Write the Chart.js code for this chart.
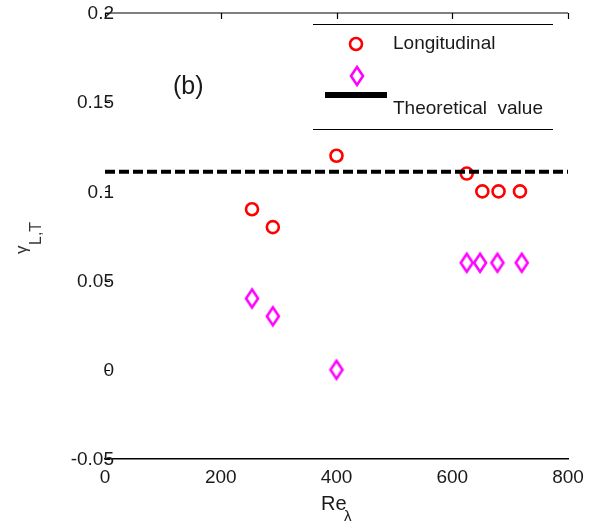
<!DOCTYPE html>
<html>
<head>
<meta charset="utf-8">
<script src="https://cdn.jsdelivr.net/npm/chart.js@4"></script>
<style>
  html, body { margin: 0; padding: 0; background: #fff; }
</style>
</head>
<body>
<canvas id="gammaChart" width="603" height="525"></canvas>
<script>
    // Data
    const reLong = [254, 290, 400, 625, 652, 680, 717];
    const gammaLong = [0.09, 0.08, 0.12, 0.11, 0.10, 0.10, 0.10];
    const reTrans = [254, 290, 400, 625, 648, 678, 720];
    const gammaTrans = [0.04, 0.03, 0.0, 0.06, 0.06, 0.06, 0.06];
    const theoryRe = [0, 800];
    const theoryGamma = [0.111, 0.111];
    const xTicks = [0, 200, 400, 600, 800];
    const yTicks = [-0.05, 0, 0.05, 0.1, 0.15, 0.2];
    const seriesLabels = ['Longitudinal', 'Transverse', 'Theoretical  value'];

    const FONT = '"Liberation Sans", Arial, sans-serif';
    const textColor = '#1a1a1a';
    const red = '#ff0000';
    const magenta = '#ff00ff';

    // tall open diamond marker
    const makeDiamond = () => {
      const c = document.createElement('canvas');
      c.width = 18;
      c.height = 26;
      const g = c.getContext('2d');
      g.strokeStyle = magenta;
      g.lineWidth = 2.6;
      g.beginPath();
      g.moveTo(9, 4);
      g.lineTo(15, 13);
      g.lineTo(9, 22);
      g.lineTo(3, 13);
      g.closePath();
      g.stroke();
      return c;
    };
    const diamond = makeDiamond();

    const toPoints = (xs, ys) => xs.map((x, i) => ({ x: x, y: ys[i] }));

    // top frame line, inward ticks, y labels, legend box, panel label, axis titles
    const decorations = {
      id: 'decorations',
      afterDraw(chart) {
        const ctx = chart.ctx;
        const area = chart.chartArea;
        const xs = chart.scales.x;
        const ys = chart.scales.y;
        ctx.save();

        // top line with ticks
        ctx.strokeStyle = '#000';
        ctx.lineWidth = 1.2;
        ctx.beginPath();
        ctx.moveTo(area.left, area.top);
        ctx.lineTo(area.right, area.top);
        xTicks.forEach(v => {
          const px = Math.round(xs.getPixelForValue(v)) + 0.5;
          ctx.moveTo(px, area.top);
          ctx.lineTo(px, area.top + 6);
        });
        ctx.stroke();

        // small y ticks
        ctx.lineWidth = 1;
        ctx.beginPath();
        yTicks.forEach(v => {
          const py = Math.round(ys.getPixelForValue(v)) + 0.5;
          ctx.moveTo(area.left, py);
          ctx.lineTo(area.left + 5, py);
        });
        ctx.stroke();

        // y tick labels, overlapping the frame edge as in the original
        ctx.fillStyle = textColor;
        ctx.font = '19px ' + FONT;
        ctx.textAlign = 'right';
        ctx.textBaseline = 'middle';
        yTicks.forEach(v => {
          ctx.fillText(String(v), area.left + 9, ys.getPixelForValue(v) + 1);
        });

        // legend
        const lx = area.left + 208;
        const lw = 240;
        ctx.lineWidth = 1;
        ctx.beginPath();
        ctx.moveTo(lx, area.top + 11.5);
        ctx.lineTo(lx + lw, area.top + 11.5);
        ctx.moveTo(lx, area.top + 116.5);
        ctx.lineTo(lx + lw, area.top + 116.5);
        ctx.stroke();

        ctx.strokeStyle = red;
        ctx.lineWidth = 2.6;
        ctx.beginPath();
        ctx.arc(lx + 43, area.top + 31, 6, 0, Math.PI * 2);
        ctx.stroke();

        ctx.drawImage(diamond, lx + 44 - diamond.width / 2, area.top + 63 - diamond.height / 2);

        ctx.strokeStyle = '#000';
        ctx.lineWidth = 6;
        ctx.beginPath();
        ctx.moveTo(lx + 12, area.top + 82);
        ctx.lineTo(lx + 74, area.top + 82);
        ctx.stroke();

        ctx.textAlign = 'left';
        ctx.fillText(seriesLabels[0], lx + 80, area.top + 31);
        ctx.fillText(seriesLabels[2], lx + 80, area.top + 96);

        // panel label
        ctx.font = '25px ' + FONT;
        ctx.fillText('(b)', area.left + 68, area.top + 74);

        // x title: Re_lambda
        ctx.textBaseline = 'alphabetic';
        ctx.font = '20px ' + FONT;
        ctx.fillText('Re', 321, 510);
        ctx.font = '15px ' + FONT;
        ctx.fillText('\u03bb', 344, 521);

        // y title: gamma_{L,T}
        ctx.fillStyle = '#333';
        ctx.translate(27, 254);
        ctx.rotate(-Math.PI / 2);
        ctx.font = '17px ' + FONT;
        ctx.fillText('\u03b3', 0, 0);
        ctx.font = '16px ' + FONT;
        ctx.fillText('L,T', 9, 14);

        ctx.restore();
      }
    };

    const ctx = document.getElementById('gammaChart').getContext('2d');
    new Chart(ctx, {
      type: 'scatter',
      data: {
        datasets: [
          {
            label: seriesLabels[2],
            type: 'line',
            data: toPoints(theoryRe, theoryGamma),
            borderColor: '#000',
            borderWidth: 4,
            borderDash: [10, 4],
            pointRadius: 0,
            fill: false,
            order: 0
          },
          {
            label: seriesLabels[0],
            data: toPoints(reLong, gammaLong),
            pointStyle: 'circle',
            pointRadius: 6,
            borderWidth: 2.6,
            borderColor: red,
            backgroundColor: 'rgba(0,0,0,0)',
            order: 1
          },
          {
            label: seriesLabels[1],
            data: toPoints(reTrans, gammaTrans),
            pointStyle: diamond,
            pointRadius: 9,
            order: 1
          }
        ]
      },
      options: {
        responsive: false,
        animation: false,
        layout: {
          padding: { top: 13, right: 35, left: 0, bottom: 0 }
        },
        plugins: {
          legend: { display: false },
          tooltip: { enabled: false }
        },
        scales: {
          x: {
            type: 'linear',
            min: 0,
            max: 800,
            afterBuildTicks: s => { s.ticks = xTicks.map(v => ({ value: v })); },
            afterFit: s => { s.height = 66; },
            grid: { display: false, drawTicks: false, tickLength: 0 },
            border: { display: true, color: '#000', width: 1.5 },
            ticks: {
              color: textColor,
              font: { family: FONT, size: 19 },
              padding: 7,
              maxRotation: 0,
              autoSkip: false
            }
          },
          y: {
            type: 'linear',
            min: -0.05,
            max: 0.2,
            afterBuildTicks: s => { s.ticks = yTicks.map(v => ({ value: v })); },
            afterFit: s => { s.width = 105; },
            grid: { display: false, drawTicks: false, tickLength: 0 },
            border: { display: false },
            ticks: { display: false }
          }
        }
      },
      plugins: [decorations]
    });
</script>
</body>
</html>
